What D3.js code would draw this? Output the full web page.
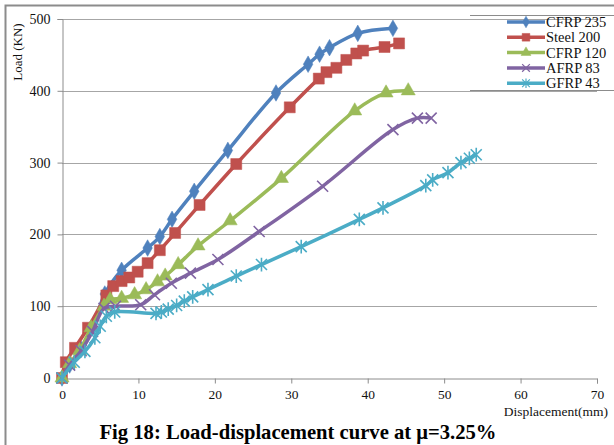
<!DOCTYPE html>
<html>
<head>
<meta charset="utf-8">
<script src="https://cdn.jsdelivr.net/npm/d3@7"></script>
<style>
  html, body { margin: 0; padding: 0; background: #fff; }
  svg { display: block; }
  text { font-family: "Liberation Serif", "Times New Roman", serif; }
</style>
</head>
<body>
<svg id="chart" width="614" height="445"></svg>
<script>
// Load-displacement readings (displacement in mm, load in kN)
const seriesNames = ["CFRP 235", "Steel 200", "CFRP 120", "AFRP 83", "GFRP 43"];

const cfrp235Disp = [0, 1.0, 2.5, 4.0, 5.6, 7.8, 11.2, 12.8, 14.4, 17.3, 21.7, 28.0, 32.2, 33.7, 35.0, 38.7, 43.3];
const cfrp235Load = [0, 18, 40, 70, 117, 150, 181, 197, 221, 260, 317, 397, 437, 451, 460, 480, 487];

const steel200Disp = [0, 0.5, 1.7, 3.4, 5.8, 6.7, 7.8, 8.8, 9.9, 11.2, 12.8, 14.8, 18.0, 22.8, 29.8, 33.6, 34.6, 35.9, 37.2, 38.5, 39.4, 42.2, 44.1];
const steel200Load = [0, 22, 42, 70, 115, 128, 135, 140, 148, 160, 178, 202, 241, 298, 377, 417, 426, 432, 443, 452, 456, 461, 466];

const cfrp120Disp = [0, 1.0, 2.3, 3.8, 5.5, 6.3, 7.8, 9.5, 11.0, 12.5, 13.5, 15.2, 17.8, 22.0, 28.7, 38.3, 42.4, 45.3];
const cfrp120Load = [0, 20, 38, 70, 100, 109, 111, 116, 123, 134, 142, 158, 184, 219, 278, 372, 397, 400];

const afrp83Disp = [0, 1.0, 2.5, 4.0, 5.5, 7.0, 10.3, 12.1, 14.3, 16.8, 20.4, 25.8, 34.1, 43.3, 46.5, 48.3];
const afrp83Load = [0, 18, 38, 65, 97, 100, 102, 116, 132, 146, 165, 204, 267, 346, 362, 362];

const gfrp43Disp = [0, 1.6, 3.0, 4.3, 5.0, 5.8, 6.9, 12.3, 13.0, 13.9, 15.0, 16.0, 17.1, 19.1, 22.8, 26.1, 31.3, 38.9, 42.0, 47.6, 48.5, 50.5, 52.2, 53.3, 54.2];
const gfrp43Load = [0, 22, 37, 56, 72, 86, 92, 90, 92, 96, 101, 107, 113, 123, 142, 158, 183, 221, 237, 268, 276, 286, 300, 306, 311];

const xTicks = [0, 10, 20, 30, 40, 50, 60, 70];
const yTicks = [0, 100, 200, 300, 400, 500];

const colors = ["#4F81BD", "#C0504D", "#9BBB59", "#8064A2", "#4BACC6"];
const markers = ["diamond", "square", "triangle", "times", "star"];

const series = [
  [cfrp235Disp, cfrp235Load],
  [steel200Disp, steel200Load],
  [cfrp120Disp, cfrp120Load],
  [afrp83Disp, afrp83Load],
  [gfrp43Disp, gfrp43Load]
].map(([xs, ys], i) => ({
  name: seriesNames[i],
  color: colors[i],
  marker: markers[i],
  points: xs.map((d, j) => ({ x: d, y: ys[j] }))
}));

const svg = d3.select("#chart");

// Page frame around the figure
svg.append("path")
  .attr("d", "M5.5,445 V5.5 H614")
  .attr("fill", "none")
  .attr("stroke", "#8c8c8c")
  .attr("stroke-width", 2);

const x = d3.scaleLinear().domain([0, 70]).range([62, 597]);
const y = d3.scaleLinear().domain([0, 500]).range([378, 19]);

// Horizontal gridlines
svg.append("g")
  .selectAll("line")
  .data(yTicks.filter(t => t > 0))
  .join("line")
  .attr("x1", x(0)).attr("x2", x(70))
  .attr("y1", d => Math.round(y(d)) + 0.5).attr("y2", d => Math.round(y(d)) + 0.5)
  .attr("stroke", "#a6a6a6").attr("stroke-width", 1);

// Y axis
const yAxis = svg.append("g")
  .attr("transform", `translate(${x(0) + 0.5},0)`)
  .call(d3.axisLeft(y).tickValues(yTicks).tickSize(5).tickPadding(7).tickFormat(d3.format("d")));
yAxis.select(".domain").attr("stroke", "#8c8c8c");
yAxis.selectAll(".tick line").attr("stroke", "#8c8c8c");
yAxis.selectAll("text").attr("font-size", 14).attr("fill", "#111")
  .attr("font-family", "Liberation Serif, serif");

// X axis
const xAxis = svg.append("g")
  .attr("transform", `translate(0,${Math.round(y(0)) + 0.5})`)
  .call(d3.axisBottom(x).tickValues(xTicks).tickSize(5).tickPadding(6).tickFormat(d3.format("d")));
xAxis.select(".domain").attr("stroke", "#8c8c8c");
xAxis.selectAll(".tick line").attr("stroke", "#8c8c8c");
xAxis.selectAll("text").attr("font-size", 13.5).attr("fill", "#111")
  .attr("font-family", "Liberation Serif, serif");

// Axis titles
svg.append("text")
  .attr("transform", "translate(22,52) rotate(-90)")
  .attr("text-anchor", "middle")
  .attr("font-size", 13)
  .attr("fill", "#111")
  .text("Load (KN)");

svg.append("text")
  .attr("x", 608).attr("y", 416)
  .attr("text-anchor", "end")
  .attr("font-size", 13.5)
  .attr("fill", "#111")
  .text("Displacement(mm)");

// Marker shapes
function markerPath(kind, s) {
  switch (kind) {
    case "diamond": return d3.symbol(d3.symbolDiamond, s * s * 0.55)();
    case "square": return d3.symbol(d3.symbolSquare, s * s)();
    case "triangle": return d3.symbol(d3.symbolTriangle, s * s * 0.6)();
    case "times": {
      const r = s / 2;
      return `M${-r},${-r}L${r},${r}M${-r},${r}L${r},${-r}`;
    }
    case "star": {
      const r = s / 2;
      return `M${-r},${-r}L${r},${r}M${-r},${r}L${r},${-r}M0,${-r * 1.25}L0,${r * 1.25}`;
    }
  }
}
const markerSize = { diamond: 12, square: 11, triangle: 12, times: 11, star: 11 };
const stroked = kind => kind === "times" || kind === "star";

const line = d3.line()
  .x(d => x(d.x))
  .y(d => y(d.y))
  .curve(d3.curveCatmullRom.alpha(0.5));

const plot = svg.append("g");
series.forEach(s => {
  const g = plot.append("g");
  g.append("path")
    .attr("d", line(s.points))
    .attr("fill", "none")
    .attr("stroke", s.color)
    .attr("stroke-width", 3.5)
    .attr("stroke-linejoin", "round");
  g.selectAll("path.m")
    .data(s.points)
    .join("path")
    .attr("class", "m")
    .attr("transform", d => `translate(${x(d.x)},${y(d.y)})`)
    .attr("d", markerPath(s.marker, markerSize[s.marker]))
    .attr("fill", stroked(s.marker) ? "none" : s.color)
    .attr("stroke", s.color)
    .attr("stroke-width", stroked(s.marker) ? 1.6 : 0.5);
});

// Legend
const legend = svg.append("g");
legend.append("path")
  .attr("d", "M470,15.5 H614 M470,90.5 H614")
  .attr("stroke", "#8c8c8c").attr("fill", "none");
series.forEach((s, i) => {
  const cy = 22 + i * 15.3;
  const g = legend.append("g");
  g.append("line")
    .attr("x1", 507).attr("x2", 545).attr("y1", cy).attr("y2", cy)
    .attr("stroke", s.color).attr("stroke-width", 3.5);
  g.append("path")
    .attr("transform", `translate(526,${cy})`)
    .attr("d", markerPath(s.marker, markerSize[s.marker] * 0.7))
    .attr("fill", stroked(s.marker) ? "none" : s.color)
    .attr("stroke", s.color)
    .attr("stroke-width", stroked(s.marker) ? 1.2 : 0.5);
  g.append("text")
    .attr("x", 546).attr("y", cy + 5)
    .attr("font-size", 14.5)
    .attr("fill", "#111")
    .text(s.name);
});

// Caption
svg.append("text")
  .attr("x", 298).attr("y", 439)
  .attr("text-anchor", "middle")
  .attr("font-size", 21)
  .attr("font-weight", "bold")
  .attr("fill", "#000")
  .attr("textLength", 397)
  .attr("lengthAdjust", "spacingAndGlyphs")
  .text("Fig 18: Load-displacement curve at μ=3.25%");
</script>
</body>
</html>
